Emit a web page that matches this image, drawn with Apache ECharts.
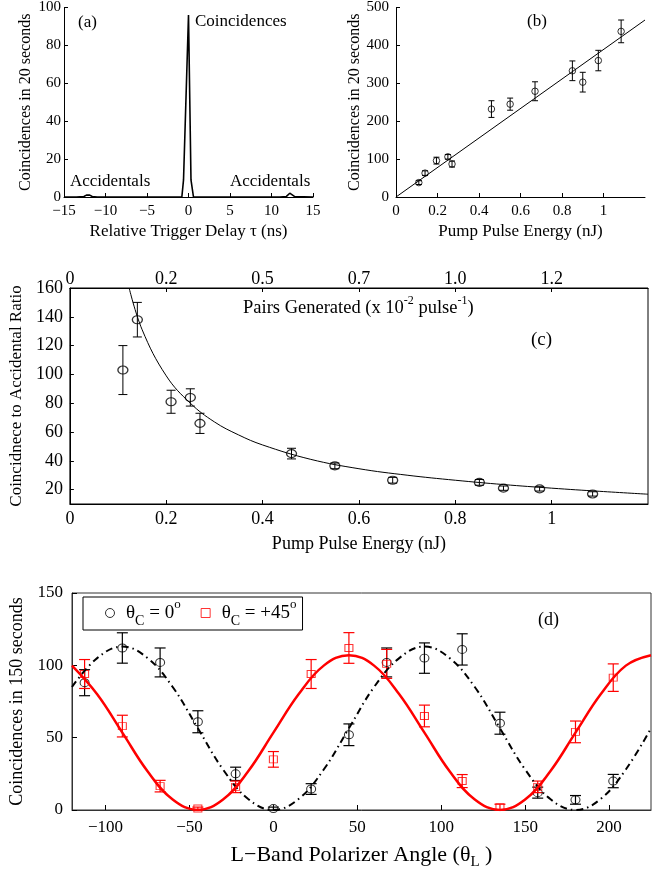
<!DOCTYPE html>
<html>
<head>
<meta charset="utf-8">
<script src="https://cdn.jsdelivr.net/npm/echarts@6/dist/echarts.min.js"></script>
<style>html,body{margin:0;padding:0;background:#fff}#c{width:660px;height:873px}</style>
</head>
<body>
<div id="c"></div>
<script>
// ---------- Panel (a): coincidence histogram ----------
const aDelay  = [-15, -13.5, -12.6, -12.3, -12.1, -11.9, -11.6, -11, -0.8, -0.6, 0, 0.3, 0.6, 11, 11.8, 12.0, 12.2, 12.4, 12.8, 15];
const aCounts = [0, 0, 0.3, 1, 2, 1, 0.3, 0, 0, 9, 96, 9, 0, 0, 0.3, 1, 2, 1, 0.2, 0];

// ---------- Panel (b): coincidences vs pump energy ----------
const bEnergy = [0.11, 0.14, 0.195, 0.25, 0.27, 0.46, 0.55, 0.67, 0.85, 0.90, 0.975, 1.085];
const bCounts = [38, 63, 96, 106, 87, 232, 245, 279, 333, 303, 360, 437];
const bErr    = [5, 6, 9, 6, 8, 22, 16, 25, 26, 26, 27, 30];
const bFitX   = [0, 1.2];
const bFitY   = [0, 467];
const bTicks  = [0, 0.2, 0.4, 0.6, 0.8, 1];

// ---------- Panel (c): coincidence-to-accidental ratio ----------
const cEnergy = [0.11, 0.14, 0.21, 0.25, 0.27, 0.46, 0.55, 0.67, 0.85, 0.90, 0.975, 1.085];
const cRatio  = [103, 138, 81, 84, 66, 45, 36.5, 26.5, 25, 21, 20.5, 17];
const cErr    = [17, 12, 8, 6, 7, 3.7, 2, 2, 2, 1.5, 1.5, 1.5];
const cFitX   = [0.123, 0.15, 0.2, 0.25, 0.3, 0.35, 0.4, 0.5, 0.6, 0.7, 0.8, 0.9, 1.0, 1.1, 1.2];
const cFitY   = [160, 131, 99, 80, 67, 58, 51, 41, 34.5, 30, 26.5, 23.5, 21, 18.8, 16.8];
const cBottomTicks  = [0, 0.2, 0.4, 0.6, 0.8, 1];
const cYTicks       = [20, 40, 60, 80, 100, 120, 140, 160];
const cTopTickPos   = [0, 0.2, 0.4, 0.6, 0.8, 1.0];
const cTopTickLabels = ['0', '0.2', '0.5', '0.7', '1.0', '1.2'];

// ---------- Panel (d): polarizer angle scan ----------
const dAngle    = [-112.5, -90, -67.5, -45, -22.5, 0, 22.5, 45, 67.5, 90, 112.5, 135, 157.5, 180, 202.5];
const dBlack    = [88, 112, 102, 61, 25, 1, 14.5, 52, 102, 105, 111, 60, 12, 7, 20];
const dBlackErr = [9, 10.5, 10, 7.6, 4.6, 1, 3.7, 7.5, 10, 10.5, 10.8, 7.6, 3.8, 3, 4.6];
const dRed      = [94, 58, 16.5, 1, 16, 35, 94, 112, 101, 65, 20, 2, 16, 54, 91.5];
const dRedErr   = [10, 7.5, 4, 1, 4, 5.4, 10, 10.6, 10, 7.5, 4.5, 2, 4, 7.5, 9.5];
const dFitAngle = [-120, -105, -90, -75, -60, -45, -30, -15, 0, 15, 30, 45, 60, 75, 90, 105, 120, 135, 150, 165, 180, 195, 210, 225];
const dBlackFit = [85, 105, 113, 105, 85, 56.5, 28, 7.6, 0, 7.6, 28, 56.5, 85, 105, 113, 105, 85, 56.5, 28, 7.6, 0, 7.6, 28, 56.5];
const dRedFit   = [99.8, 80, 53.5, 26.8, 7.2, 0, 7.2, 26.8, 53.5, 80, 99.8, 107, 99.8, 80, 53.5, 26.8, 7.2, 0, 7.2, 26.8, 53.5, 80, 99.8, 107];
const dXTicks   = [-100, -50, 0, 50, 100, 150, 200];

const FONT = "'Liberation Serif', 'Times New Roman', serif";
const zip2 = (xs, ys) => xs.map((x, i) => [x, ys[i]]);
const zip3 = (xs, ys, es) => xs.map((x, i) => [x, ys[i], es[i]]);
const minus = v => String(v).replace('-', '\u2212');
const fmt1 = v => String(+(+v).toFixed(1));

function errSeries(xi, yi, data, color, cap, lw) {
  return {
    type: 'custom', xAxisIndex: xi, yAxisIndex: yi, data: data,
    encode: { x: 0, y: 1 }, silent: true,
    renderItem: function (params, api) {
      const x = api.value(0), y = api.value(1), e = api.value(2);
      const hi = api.coord([x, y + e]);
      const lo = api.coord([x, y - e]);
      const st = { stroke: color, lineWidth: lw };
      return {
        type: 'group',
        children: [
          { type: 'line', shape: { x1: hi[0], y1: hi[1], x2: lo[0], y2: lo[1] }, style: st },
          { type: 'line', shape: { x1: hi[0] - cap, y1: hi[1], x2: hi[0] + cap, y2: hi[1] }, style: st },
          { type: 'line', shape: { x1: lo[0] - cap, y1: lo[1], x2: lo[0] + cap, y2: lo[1] }, style: st }
        ]
      };
    }
  };
}

function baseAxis(extra) {
  return Object.assign({
    type: 'value',
    axisLine: { show: true, onZero: false, lineStyle: { color: '#000', width: 1 } },
    axisTick: { show: true, inside: true, length: 4, lineStyle: { color: '#000' } },
    splitLine: { show: false },
    nameLocation: 'middle',
    nameTextStyle: { color: '#000', fontFamily: FONT }
  }, extra);
}

const chart = echarts.init(document.getElementById('c'), null, { renderer: 'canvas' });

const option = {
  animation: false,
  backgroundColor: '#fff',
  textStyle: { fontFamily: FONT, color: '#000' },
  grid: [
    { left: 64, top: 7, width: 249, height: 190 },
    { left: 396, top: 7, width: 249, height: 190 },
    { left: 67, top: 288, width: 581, height: 216, show: true, borderColor: '#000', borderWidth: 1 },
    { left: 72, top: 593, width: 579, height: 217, show: true, borderColor: '#333', borderWidth: 1 }
  ],
  xAxis: [
    baseAxis({ gridIndex: 0, min: -15, max: 15, interval: 5,
      axisLabel: { fontSize: 15, margin: 7, color: '#000', fontFamily: FONT, formatter: minus },
      name: 'Relative Trigger Delay \u03c4 (ns)', nameGap: 26,
      nameTextStyle: { fontSize: 17, color: '#000', fontFamily: FONT } }),
    baseAxis({ gridIndex: 1, min: 0, max: 1.2,
      axisLabel: { fontSize: 15, margin: 7, color: '#000', fontFamily: FONT, customValues: bTicks, formatter: fmt1 },
      axisTick: { show: true, inside: true, length: 4, customValues: bTicks, lineStyle: { color: '#000' } },
      name: 'Pump Pulse Energy (nJ)', nameGap: 26,
      nameTextStyle: { fontSize: 17, color: '#000', fontFamily: FONT } }),
    baseAxis({ gridIndex: 2, min: 0, max: 1.2,
      axisLabel: { fontSize: 18, margin: 6, color: '#000', fontFamily: FONT, customValues: cBottomTicks, formatter: fmt1 },
      axisTick: { show: true, inside: true, length: 4, customValues: cBottomTicks, lineStyle: { color: '#000' } },
      name: 'Pump Pulse Energy (nJ)', nameGap: 31,
      nameTextStyle: { fontSize: 18, color: '#000', fontFamily: FONT } }),
    baseAxis({ gridIndex: 2, position: 'top', min: 0, max: 1.2,
      axisLabel: { fontSize: 18, margin: 0, color: '#000', fontFamily: FONT, customValues: cTopTickPos,
        formatter: v => { const i = cTopTickPos.findIndex(p => Math.abs(p - v) < 1e-6); return i >= 0 ? cTopTickLabels[i] : ''; } },
      axisTick: { show: true, inside: true, length: 4, customValues: cTopTickPos, lineStyle: { color: '#000' } } }),
    baseAxis({ gridIndex: 3, min: -120, max: 225,
      axisLine: { show: true, onZero: false, lineStyle: { color: '#333', width: 1 } },
      axisLabel: { fontSize: 17, margin: 9, color: '#000', fontFamily: FONT, customValues: dXTicks, formatter: minus },
      axisTick: { show: true, inside: true, length: 5, customValues: dXTicks, lineStyle: { color: '#000' } },
      name: 'L\u2212Band Polarizer Angle (\u03b8{sub|L} )', nameGap: 30,
      nameTextStyle: { fontSize: 22, lineHeight: 30, color: '#000', fontFamily: FONT,
        rich: { sub: { fontSize: 15, lineHeight: 8, verticalAlign: 'bottom', fontFamily: FONT, color: '#000' } } } })
  ],
  yAxis: [
    baseAxis({ gridIndex: 0, min: 0, max: 100, interval: 20,
      axisLabel: { fontSize: 15, margin: 3, color: '#000', fontFamily: FONT },
      name: 'Coincidences in 20 seconds', nameGap: 30,
      nameTextStyle: { fontSize: 16, color: '#000', fontFamily: FONT } }),
    baseAxis({ gridIndex: 1, min: 0, max: 500, interval: 100,
      axisLabel: { fontSize: 15, margin: 7, color: '#000', fontFamily: FONT },
      name: 'Coincidences in 20 seconds', nameGap: 31,
      nameTextStyle: { fontSize: 16, color: '#000', fontFamily: FONT } }),
    baseAxis({ gridIndex: 2, min: 10, max: 160,
      axisLabel: { fontSize: 18, margin: 7, color: '#000', fontFamily: FONT, customValues: cYTicks },
      axisTick: { show: true, inside: true, length: 4, customValues: cYTicks, lineStyle: { color: '#000' } },
      name: 'Coincidnece to Accidental Ratio', nameGap: 41,
      nameTextStyle: { fontSize: 17, color: '#000', fontFamily: FONT } }),
    baseAxis({ gridIndex: 3, min: 0, max: 150, interval: 50,
      axisLine: { show: true, onZero: false, lineStyle: { color: '#333', width: 1 } },
      axisTick: { show: true, inside: true, length: 5, lineStyle: { color: '#000' } },
      axisLabel: { fontSize: 17, margin: 9, color: '#000', fontFamily: FONT },
      name: 'Coincidences in 150 seconds', nameGap: 43,
      nameTextStyle: { fontSize: 18, color: '#000', fontFamily: FONT } })
  ],
  legend: {
    left: 83, top: 597,
    orient: 'horizontal',
    backgroundColor: '#fff',
    borderColor: '#000', borderWidth: 1,
    padding: [1, 6, 2, 22],
    itemWidth: 22, itemHeight: 9, itemGap: 20,
    selectedMode: false,
    data: [
      { name: 'thetaC0', icon: 'circle', itemStyle: { color: 'rgba(0,0,0,0)', borderColor: '#000', borderWidth: 1 } },
      { name: 'thetaC45', icon: 'path://M0 0H10V10H0Z', itemStyle: { color: 'rgba(0,0,0,0)', borderColor: '#ff0000', borderWidth: 1 } }
    ],
    formatter: function (name) {
      return name === 'thetaC0'
        ? '\u03b8{s|C} = 0{p|o}'
        : '\u03b8{s|C} = +45{p|o}';
    },
    textStyle: {
      fontSize: 19, lineHeight: 30, color: '#000', fontFamily: FONT,
      rich: {
        s: { fontSize: 14, lineHeight: 10, verticalAlign: 'bottom', fontFamily: FONT, color: '#000' },
        p: { fontSize: 13, lineHeight: 18, verticalAlign: 'top', fontFamily: FONT, color: '#000' }
      }
    }
  },
  graphic: [
    { type: 'text', left: 78, top: 14, style: { text: '(a)', fontSize: 17, fontFamily: FONT, fill: '#000' } },
    { type: 'text', left: 195, top: 13, style: { text: 'Coincidences', fontSize: 17, fontFamily: FONT, fill: '#000' } },
    { type: 'text', left: 70, top: 173, style: { text: 'Accidentals', fontSize: 17, fontFamily: FONT, fill: '#000' } },
    { type: 'text', left: 230, top: 173, style: { text: 'Accidentals', fontSize: 17, fontFamily: FONT, fill: '#000' } },
    { type: 'text', left: 527, top: 13, style: { text: '(b)', fontSize: 17, fontFamily: FONT, fill: '#000' } },
    { type: 'text', left: 531, top: 331, style: { text: '(c)', fontSize: 19, fontFamily: FONT, fill: '#000' } },
    { type: 'text', left: 538, top: 611, style: { text: '(d)', fontSize: 18, fontFamily: FONT, fill: '#000' } },
    { type: 'text', left: 243, top: 295,
      style: { text: 'Pairs Generated (x 10{sup|-2} pulse{sup|-1})', fontSize: 18.5, lineHeight: 26, fontFamily: FONT, fill: '#000',
        rich: { sup: { fontSize: 12, lineHeight: 14, verticalAlign: 'top', fontFamily: FONT, fill: '#000' } } } }
  ],
  series: [
    // (a)
    { type: 'line', xAxisIndex: 0, yAxisIndex: 0, data: zip2(aDelay, aCounts), symbol: 'none',
      lineStyle: { color: '#000', width: 1.6 } },
    // (b)
    { type: 'line', xAxisIndex: 1, yAxisIndex: 1, data: zip2(bFitX, bFitY), symbol: 'none',
      lineStyle: { color: '#000', width: 1 } },
    errSeries(1, 1, zip3(bEnergy, bCounts, bErr), '#000', 3, 1),
    { type: 'scatter', xAxisIndex: 1, yAxisIndex: 1, data: zip2(bEnergy, bCounts), symbol: 'circle', symbolSize: 6.5,
      itemStyle: { color: 'rgba(0,0,0,0)', borderColor: '#000', borderWidth: 1 } },
    // (c)
    { type: 'line', xAxisIndex: 2, yAxisIndex: 2, data: zip2(cFitX, cFitY), symbol: 'none', smooth: 0.4,
      lineStyle: { color: '#000', width: 1 } },
    errSeries(2, 2, zip3(cEnergy, cRatio, cErr), '#000', 4.5, 1),
    { type: 'scatter', xAxisIndex: 2, yAxisIndex: 2, data: zip2(cEnergy, cRatio), symbol: 'circle', symbolSize: [10, 8],
      itemStyle: { color: 'rgba(0,0,0,0)', borderColor: '#000', borderWidth: 1.2 } },
    // (d)
    { type: 'line', xAxisIndex: 4, yAxisIndex: 3, data: zip2(dFitAngle, dBlackFit), symbol: 'none', smooth: 0.4,
      lineStyle: { color: '#000', width: 2, type: [7, 4, 1.5, 4] } },
    { type: 'line', xAxisIndex: 4, yAxisIndex: 3, data: zip2(dFitAngle, dRedFit), symbol: 'none', smooth: 0.4,
      lineStyle: { color: '#ff0000', width: 2.5 } },
    errSeries(4, 3, zip3(dAngle, dBlack, dBlackErr), '#000', 5.5, 1.2),
    errSeries(4, 3, zip3(dAngle, dRed, dRedErr), '#ff0000', 5.5, 1.2),
    { name: 'thetaC0', type: 'scatter', xAxisIndex: 4, yAxisIndex: 3, data: zip2(dAngle, dBlack), symbol: 'circle', symbolSize: [9, 8],
      itemStyle: { color: 'rgba(0,0,0,0)', borderColor: '#000', borderWidth: 1 } },
    { name: 'thetaC45', type: 'scatter', xAxisIndex: 4, yAxisIndex: 3, data: zip2(dAngle, dRed), symbol: 'rect', symbolSize: [8, 7],
      itemStyle: { color: 'rgba(0,0,0,0)', borderColor: '#ff0000', borderWidth: 1 } }
  ]
};
chart.setOption(option);
</script>
</body>
</html>
